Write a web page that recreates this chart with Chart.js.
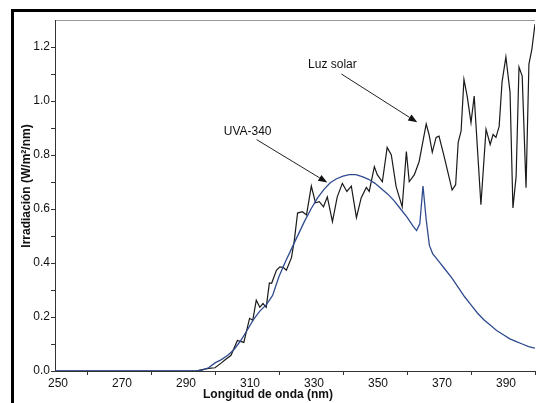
<!DOCTYPE html>
<html><head><meta charset="utf-8">
<script src="https://cdn.jsdelivr.net/npm/chart.js@4.4.1/dist/chart.umd.min.js"></script>
<style>
html,body{margin:0;padding:0;background:#fff;overflow:hidden}
#wrap{position:relative;width:536px;height:403px}
canvas{position:absolute;left:0;top:0}
</style></head><body>
<div id="wrap"><canvas id="c" width="536" height="403"></canvas></div>
<script>
// ---- data ----
const sunWavelengths = [250,294,296,298,300,302,303,305,307,309,310.8,311.8,312.9,314,315,316,317,317.7,319.2,320.2,321.2,322.3,323.9,324.8,325.8,327.3,328.6,330.1,331.4,332.6,333.9,335.1,336.7,338.2,339.8,341.2,342.6,344.2,345.7,347.3,348.2,349.8,350.7,352.3,353.8,355.1,356.6,358.5,359.8,360.7,362.3,363.8,366,366.9,367.9,369.1,370,371.6,374.1,375.2,376,376.9,377.8,378.8,380,381,383.1,384.7,386,386.9,387.8,388.8,389.7,390.9,392.2,393.1,394.1,395,396,397.2,398.1,399,400];
const sunValues = [0,0,0.005,0.01,0.012,0.03,0.04,0.058,0.113,0.106,0.195,0.188,0.262,0.236,0.25,0.236,0.326,0.325,0.373,0.385,0.385,0.373,0.42,0.485,0.585,0.59,0.578,0.685,0.623,0.627,0.608,0.645,0.553,0.645,0.695,0.665,0.685,0.568,0.642,0.68,0.665,0.757,0.727,0.701,0.828,0.8,0.683,0.608,0.813,0.701,0.727,0.776,0.915,0.875,0.81,0.865,0.87,0.795,0.67,0.69,0.847,0.888,1.08,1.018,0.92,1.018,0.616,0.895,0.839,0.876,0.865,0.906,1.07,1.163,1.033,0.604,0.72,1.126,1.092,0.679,1.137,1.19,1.285];
const uvaWavelengths = [250,294,296,298,300,302,304,306,308,310,312,314,316,318,320,322,324,326,328,330,332,334,336,338,340,342,344,346,348,350,352,354,356,358,360,362,363,364,365,366,367,368,370,372,374,376,378,380,382,384,386,388,390,392,394,396,398,400];
const uvaValues = [0,0,0.003,0.012,0.03,0.042,0.058,0.08,0.112,0.15,0.19,0.222,0.245,0.28,0.35,0.405,0.455,0.505,0.555,0.6,0.64,0.672,0.697,0.712,0.722,0.727,0.727,0.72,0.71,0.695,0.675,0.655,0.63,0.6,0.57,0.535,0.52,0.545,0.685,0.56,0.465,0.435,0.405,0.375,0.345,0.31,0.275,0.245,0.215,0.19,0.17,0.15,0.135,0.12,0.11,0.1,0.09,0.085];
const seriesNames = ['Luz solar','UVA-340'];
const xTickLabels = [250,270,290,310,330,350,370,390];
const yTickLabels = [0,0.2,0.4,0.6,0.8,1.0,1.2];
const xTitle = 'Longitud de onda (nm)';
const yTitle = 'Irradiación (W/m²/nm)';
// annotation anchors in data units
const annotations = [
  {text:'Luz solar', at:[336.7,1.133], from:[339.5,1.10], to:[363.2,0.921]},
  {text:'UVA-340',  at:[310.2,0.887], from:[313,0.857], to:[335.1,0.698]}
];

const FONT = "'Liberation Sans', Arial, sans-serif";

const decor = {
  id:'decor',
  beforeDraw(chart){
    const c = chart.ctx;
    c.save();
    c.fillStyle='#fff'; c.fillRect(0,0,chart.width,chart.height);
    c.fillStyle='#000';
    c.fillRect(11,9,525,3);
    c.fillRect(11,9,3,394);
    const a = chart.chartArea;
    c.strokeStyle='#999'; c.lineWidth=1;
    c.beginPath(); c.moveTo(a.left, a.top+0.5); c.lineTo(a.right, a.top+0.5); c.stroke();
    c.restore();
  },
  afterDraw(chart){
    const c = chart.ctx, xs = chart.scales.x, ys = chart.scales.y;
    c.save();
    c.fillStyle='#111';
    c.font = "bold 12px " + FONT;
    c.textAlign='center'; c.textBaseline='middle';
    c.fillText(xTitle, 268, 395);
    c.save(); c.translate(27,186); c.rotate(-Math.PI/2); c.fillText(yTitle,0,0); c.restore();
    c.font = "12px " + FONT;
    annotations.forEach(an=>{
      c.fillStyle='#111';
      c.fillText(an.text, xs.getPixelForValue(an.at[0]), ys.getPixelForValue(an.at[1]));
      const x1=xs.getPixelForValue(an.from[0]), y1=ys.getPixelForValue(an.from[1]);
      const x2=xs.getPixelForValue(an.to[0]), y2=ys.getPixelForValue(an.to[1]);
      const ang=Math.atan2(y2-y1,x2-x1), L=9, W=3.5;
      const bx=x2-L*Math.cos(ang), by=y2-L*Math.sin(ang);
      c.strokeStyle='#222'; c.lineWidth=1;
      c.beginPath(); c.moveTo(x1,y1); c.lineTo(bx,by); c.stroke();
      c.fillStyle='#111';
      c.beginPath(); c.moveTo(x2,y2);
      c.lineTo(bx+W*Math.sin(ang), by-W*Math.cos(ang));
      c.lineTo(bx-W*Math.sin(ang), by+W*Math.cos(ang));
      c.closePath(); c.fill();
    });
    c.restore();
  }
};

new Chart(document.getElementById('c'), {
  type:'line',
  data:{
    datasets:[
      {label:seriesNames[1], data:uvaWavelengths.map((w,i)=>({x:w,y:uvaValues[i]})), borderColor:'#2f4b8f', borderWidth:1.3, pointRadius:0, tension:0, fill:false, order:0},
      {label:seriesNames[0], data:sunWavelengths.map((w,i)=>({x:w,y:sunValues[i]})), borderColor:'#1a1a1a', borderWidth:1.2, pointRadius:0, tension:0, fill:false, order:1}
    ]
  },
  options:{
    responsive:false, animation:false,
    layout:{padding:{top:20,right:0,left:0,bottom:0}},
    plugins:{legend:{display:false}, tooltip:{enabled:false}},
    scales:{
      x:{type:'linear', min:250, max:400,
        afterFit(s){ s.height=32; },
        ticks:{stepSize:10, autoSkip:false, maxRotation:0, padding:1, labelOffset:3, color:'#111', font:{family:FONT,size:12},
          callback:v=> xTickLabels.includes(Math.round(v)) ? String(Math.round(v)) : ''},
        grid:{drawOnChartArea:false, tickLength:4, tickColor:ctx=> (ctx.tick && Math.round(ctx.tick.value)%20===0 && Math.round(ctx.tick.value)>250) ? '#333' : 'rgba(0,0,0,0)'},
        border:{color:'#333', width:1}
      },
      y:{min:0, max:1.3,
        afterFit(s){ s.width=55; },
        ticks:{stepSize:0.1, autoSkip:false, padding:1, color:'#111', font:{family:FONT,size:12},
          callback:v=> yTickLabels.some(t=>Math.abs(t-v)<1e-6) ? v.toFixed(1) : ''},
        grid:{drawOnChartArea:false, tickLength:4, tickColor:ctx=> (ctx.tick && ctx.tick.value>1.25) ? 'rgba(0,0,0,0)' : '#333'},
        border:{color:'#333', width:1}
      }
    }
  },
  plugins:[decor]
});
</script>
</body></html>
